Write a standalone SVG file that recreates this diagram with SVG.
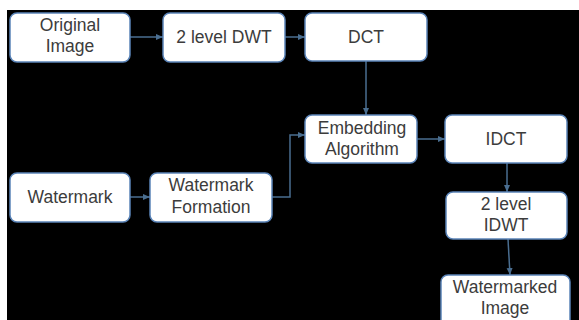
<svg xmlns="http://www.w3.org/2000/svg" width="579" height="320" viewBox="0 0 579 320">
<defs>
<marker id="ah" markerWidth="8" markerHeight="8" refX="7" refY="4" orient="auto" markerUnits="userSpaceOnUse">
<path d="M0,1 L7,4 L0,7 Z" fill="#4a6e90"/>
</marker>
<style>
.box{fill:#ffffff;stroke:#5b84b8;stroke-width:1.5}
.t{font-family:"Liberation Sans",Arial,sans-serif;font-size:17.5px;fill:#3c3c3c;text-anchor:middle}
.c{fill:none;stroke:#4a6e90;stroke-width:1.5;marker-end:url(#ah)}
</style>
</defs>
<rect x="0" y="0" width="579" height="320" fill="#000"/>
<rect x="0" y="0" width="579" height="10" fill="#fff"/>
<rect x="0" y="0" width="7" height="320" fill="#fff"/>
<g id="connectors">
<path class="c" d="M130,37 L163,37"/>
<path class="c" d="M285,37 L305,37"/>
<path class="c" d="M366,61 L366,115"/>
<path class="c" d="M130,197 L150,197"/>
<path class="c" d="M272,197 L290,197 L290,135 L305,135"/>
<path class="c" d="M417,139 L445,139"/>
<path class="c" d="M507,163 L507,192"/>
<path class="c" d="M508,239 L510,275"/>
</g>
<g id="original">
<rect class="box" x="10" y="13" width="120" height="49" rx="7"/>
<text class="t" x="70" y="31">Original</text>
<text class="t" x="70" y="52">Image</text>
</g>
<g id="dwt">
<rect class="box" x="163" y="13" width="122" height="49" rx="7"/>
<text class="t" x="224" y="43">2 level DWT</text>
</g>
<g id="dct">
<rect class="box" x="305" y="13" width="122" height="48" rx="7"/>
<text class="t" x="366" y="43">DCT</text>
</g>
<g id="embedding">
<rect class="box" x="305" y="115" width="112" height="48" rx="7"/>
<text class="t" x="362" y="134">Embedding</text>
<text class="t" x="362" y="155">Algorithm</text>
</g>
<g id="idct">
<rect class="box" x="445" y="115" width="122" height="48" rx="7"/>
<text class="t" x="506" y="145">IDCT</text>
</g>
<g id="watermark">
<rect class="box" x="10" y="173" width="120" height="49" rx="7"/>
<text class="t" x="70" y="203">Watermark</text>
</g>
<g id="formation">
<rect class="box" x="150" y="173" width="122" height="49" rx="7"/>
<text class="t" x="211" y="191">Watermark</text>
<text class="t" x="211" y="213">Formation</text>
</g>
<g id="idwt">
<rect class="box" x="446" y="192" width="121" height="47" rx="7"/>
<text class="t" x="506" y="210">2 level</text>
<text class="t" x="506" y="231">IDWT</text>
</g>
<g id="watermarked">
<rect class="box" x="441" y="275" width="129" height="55" rx="7"/>
<text class="t" x="505" y="293">Watermarked</text>
<text class="t" x="505" y="314">Image</text>
</g>
</svg>
